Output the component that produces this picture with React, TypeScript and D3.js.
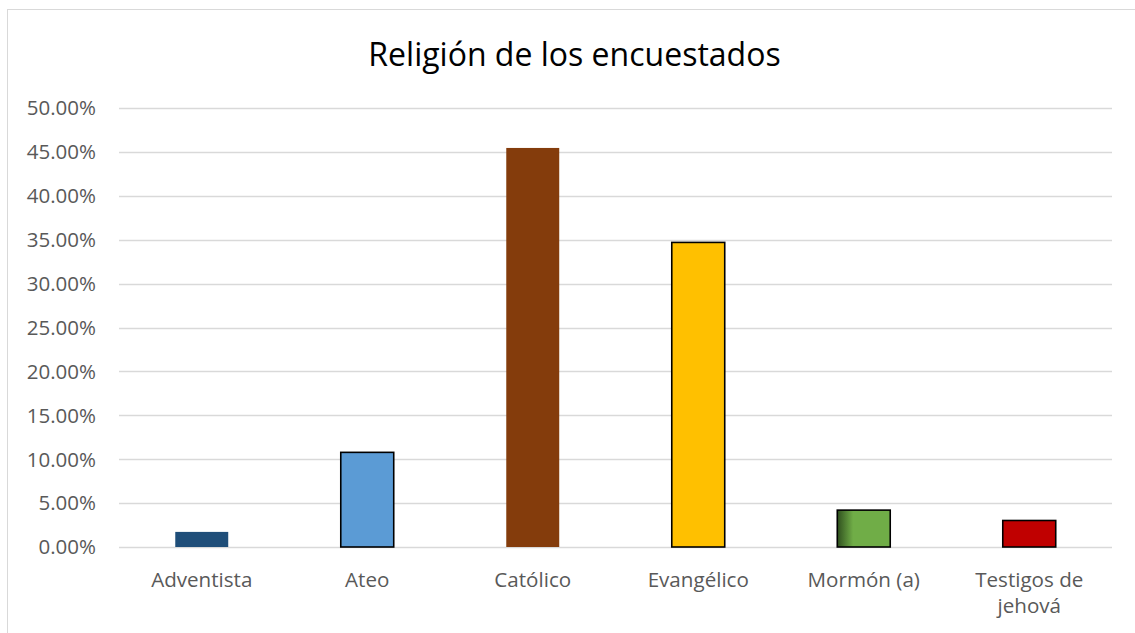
import React from "react";
import * as d3 from "d3";

const categories = ["Adventista", "Ateo", "Católico", "Evangélico", "Mormón (a)", "Testigos de jehová"];
const values = [0.0172, 0.1078, 0.4545, 0.3469, 0.042, 0.0302];
const colors = ["#1F4E79", "#5B9BD5", "#843C0C", "#FFC000", "#70AD47", "#C00000"];
const bordered = [false, true, false, true, true, true];
const yTicks = [0, 0.05, 0.1, 0.15, 0.2, 0.25, 0.3, 0.35, 0.4, 0.45, 0.5];
const labelLines: string[][] = [["Adventista"], ["Ateo"], ["Católico"], ["Evangélico"], ["Mormón (a)"], ["Testigos de", "jehová"]];

const W = 1135;
const H = 633;
const plot = { left: 119, right: 1112, top: 108, bottom: 547 };
const FONT = "'Open Sans', Lato, sans-serif";

export default function App() {
  const x = d3.scaleBand<string>().domain(categories).range([plot.left, plot.right]).paddingInner(0.68).paddingOuter(0.34);
  const y = d3.scaleLinear().domain([0, 0.5]).range([plot.bottom, plot.top]);
  const fmt = (v: number) => (v * 100).toFixed(2) + "%";
  return (
    <svg width={W} height={H} style={{ position: "absolute", left: 0, top: 0, background: "#fff" }}>
      <defs>
        <linearGradient id="mormonGrad" x1="0" x2="1" y1="0" y2="0">
          <stop offset="0" stopColor="#2F4F1E" />
          <stop offset="0.3" stopColor="#70AD47" />
          <stop offset="1" stopColor="#70AD47" />
        </linearGradient>
      </defs>
      <rect x={7.5} y={9.5} width={1140} height={640} fill="#fff" stroke="#D9D9D9" strokeWidth={1} />
      <text x={574.5} y={66} textAnchor="middle" fontFamily={FONT} fontSize={32} fill="#000">
        Religión de los encuestados
      </text>
      {yTicks.map((t) => (
        <g key={t}>
          <line x1={plot.left} x2={plot.right} y1={Math.round(y(t)) + 0.5} y2={Math.round(y(t)) + 0.5} stroke="#D9D9D9" strokeWidth={1.3} />
          <text x={96} y={y(t)} dy="0.36em" textAnchor="end" fontFamily={FONT} fontSize={20.5} fill="#595959">
            {fmt(t)}
          </text>
        </g>
      ))}
      {categories.map((c, i) => {
        const bx = x(c)!;
        const bw = x.bandwidth();
        const top = y(values[i]);
        const fill = c.startsWith("Morm") ? "url(#mormonGrad)" : colors[i];
        return (
          <rect
            key={c}
            x={bx}
            y={top}
            width={bw}
            height={plot.bottom - top}
            fill={fill}
            stroke={bordered[i] ? "#000" : "none"}
            strokeWidth={bordered[i] ? 1.6 : 0}
          />
        );
      })}
      {categories.map((c, i) => {
        const cx = x(c)! + x.bandwidth() / 2;
        return (
          <text key={c} x={cx} y={587} textAnchor="middle" fontFamily={FONT} fontSize={20.6} fill="#595959">
            {labelLines[i].map((l, j) => (
              <tspan key={j} x={cx} dy={j === 0 ? 0 : 26}>
                {l}
              </tspan>
            ))}
          </text>
        );
      })}
    </svg>
  );
}
